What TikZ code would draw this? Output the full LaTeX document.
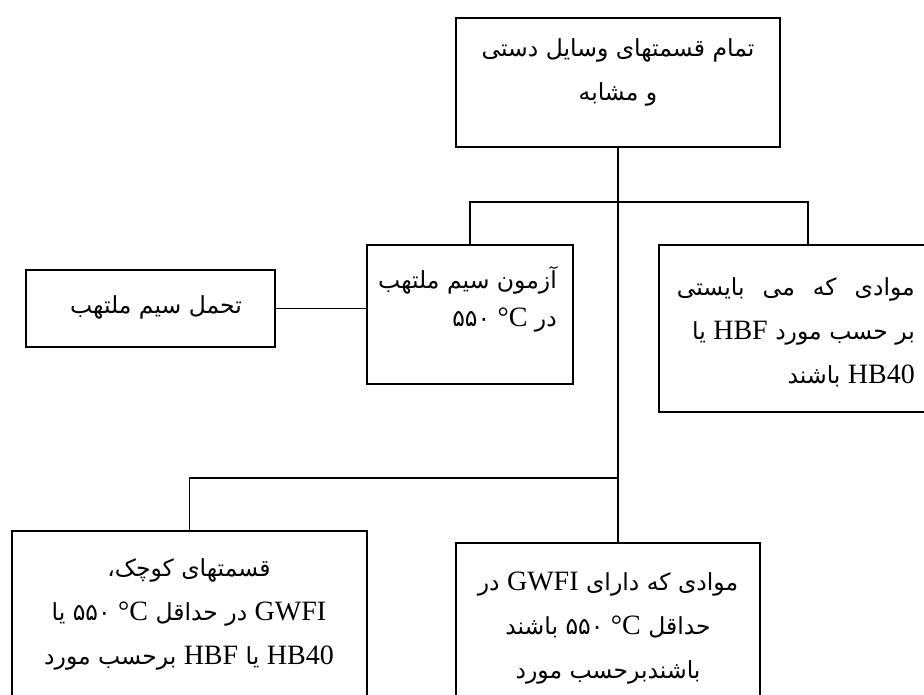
\documentclass[tikz,border=0pt]{standalone}
\usepackage{fontspec}
\setmainfont{Liberation Serif}
\newfontfamily\farsiFont[Script=Arabic]{DejaVu Sans}
\TeXXeTstate=1
\usetikzlibrary{positioning}
\tikzstyle{chart} = [x = 1pt, y = -1pt]
\tikzstyle{boxStyle} = [draw, line width = 1.3pt, inner sep = 0pt]
\tikzstyle{lineStyle} = [line width = 1.3pt]
\tikzstyle{boxText} = [font = \farsiFont\fontsize{23.5}{44}\selectfont, inner sep = 0pt]
\newcommand{\lat}[1]{\beginL{\rmfamily\fontsize{28}{44}\selectfont #1}\endL}
\newcommand{\degC}{\beginL ۵۵۰ {\rmfamily\fontsize{28}{44}\selectfont °C}\endL}
\newcommand{\chartBox}[5]{\node [boxStyle, minimum width = #4 - #2, minimum height = #5 - #3] (#1) at ({(#2 + #4) / 2}, {(#3 + #5) / 2}) {};}

\begin{document}
\begin{tikzpicture}[chart]
  \clip (0,0) rectangle (924,694);
  % boxes
  \chartBox{topBox}{456}{18}{780}{147}
  \chartBox{middleBox}{367}{245}{573}{384}
  \chartBox{sideBox}{26}{270}{275}{347}
  \chartBox{rightBox}{659}{245}{957}{412}
  \chartBox{bottomLeftBox}{12}{531}{367}{730}
  \chartBox{bottomRightBox}{456}{543}{760}{730}

  % texts
  \node [boxText, align=center] (topText) at (618,72)
    {\beginR تمام قسمتهای وسایل دستی\endR\\ \beginR و مشابه\endR};
  \node [boxText, align=right, anchor=east, font=\farsiFont\fontsize{23.5}{38}\selectfont] (middleText) at (557,299)
    {\beginR آزمون سیم ملتهب\endR\\ \beginR در \degC\endR};
  \node [boxText] (sideText) at (156,307) {\beginR تحمل سیم ملتهب\endR};
  \node [boxText, align=right, anchor=east] (rightText) at (915,332)
    {\hbox to 238pt{\beginR موادی\hfill که\hfill می\hfill بایستی\endR}\\
     \beginR بر حسب مورد \lat{HBF} یا\endR\\
     \beginR \lat{HB40} باشند\endR};
  \node [boxText, align=center] (bottomLeftText) at (189,614)
    {\beginR قسمتهای کوچک،\endR\\
     \beginR \lat{GWFI} در حداقل \degC{}  یا\endR\\
     \beginR \lat{HB40} یا \lat{HBF} برحسب مورد\endR};
  \node [boxText, align=center] (bottomRightText) at (608,628)
    {\beginR موادی که دارای \lat{GWFI} در\endR\\
     \beginR حداقل \degC{} باشند\endR\\
     \beginR باشندبرحسب مورد\endR};

  % connectors
  \coordinate (upperJoin) at (618,202);
  \coordinate (lowerJoin) at (618,478);
  \draw [lineStyle] (topBox.south) -- (topBox.south |- bottomRightBox.north);
  \draw [lineStyle] (middleBox.north) -- (middleBox.north |- upperJoin) -- (rightBox.north |- upperJoin) -- (rightBox.north);
  \draw [lineStyle] (bottomLeftBox.north) -- (bottomLeftBox.north |- lowerJoin) -- (lowerJoin);
  \draw [lineStyle] (sideBox.east) -- (middleBox.west |- sideBox.east);
\end{tikzpicture}
\end{document}
